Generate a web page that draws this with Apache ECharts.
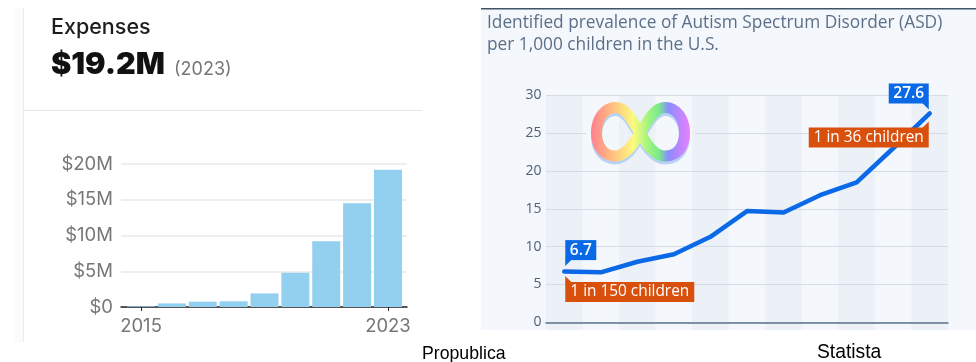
<!DOCTYPE html>
<html><head><meta charset="utf-8">
<style>html,body{margin:0;padding:0;background:#fff}#c{width:976px;height:362px}</style>
<script src="https://cdn.jsdelivr.net/npm/echarts@6/dist/echarts.min.js"></script>
</head><body><div id="c"></div>
<script>
const expenseYears = ['2015','2016','2017','2018','2019','2020','2021','2022','2023'];
const expenseValues = [0.1, 0.5, 0.75, 0.8, 1.9, 4.8, 9.2, 14.5, 19.2];
const expenseTicks = [0, 5, 10, 15, 20];
const prevalenceYears = ['2000','2002','2004','2006','2008','2010','2012','2014','2016','2018','2020'];
const prevalenceValues = [6.7, 6.6, 8.0, 9.0, 11.3, 14.7, 14.5, 16.8, 18.5, 23.0, 27.6];
const blueCallouts = [[0, 6.7, '6.7'], [10, 27.6, '27.6']];
const orangeCallouts = [[0, 6.7, '1 in 150 children'], [10, 27.6, '1 in 36 children']];

const sans = '"Open Sans"';
const chart = echarts.init(document.getElementById('c'));
const BLUE = '#0a69e6', ORANGE = '#d9500c';
const figure8 = 'M640,133 C632,120 626,107.5 616,107.5 C604,107.5 596.5,119 596.5,132.5 C596.5,147 604,156 615,156 C626,156 633,144 640,133 C647,122 654,107.5 665,107.5 C677,107.5 684.5,119 684.5,132.5 C684.5,147 677,156 665,156 C654,156 647,144 640,133 Z';
const rainbow = {type: 'linear', x: 0, y: 0, x2: 1, y2: 0, colorStops: [
  {offset: 0, color: '#ff7f8f'}, {offset: 0.2, color: '#ffbb80'}, {offset: 0.43, color: '#fbfb7f'}, {offset: 0.58, color: '#a0f47f'},
  {offset: 0.69, color: '#78ea8c'}, {offset: 0.78, color: '#8a8cff'}, {offset: 1, color: '#ea80ff'}]};

function callout(params, api, side) {
  const p = api.coord([api.value(0), api.value(1)]);
  const right = params.dataIndex === 1;
  const text = side === 'blue' ? blueCallouts[params.dataIndex][2] : orangeCallouts[params.dataIndex][2];
  let x, y, w, tail;
  if (side === 'blue') {
    w = right ? 40 : 31;
    x = right ? p[0] - 1 - w : p[0] + 1;
    y = p[1] - (right ? 30 : 31.5);
    const edge = right ? x + w : x;
    tail = [[edge, y + 19], [edge, y + 26], [right ? edge - 7 : edge + 7, y + 19]];
  } else {
    w = right ? 120 : 129;
    x = right ? p[0] - 1 - w : p[0] + 1;
    y = p[1] + (right ? 14 : 10.5);
    const edge = right ? x + w : x;
    tail = [[edge, y + 1], [edge, y - 6], [right ? edge - 7 : edge + 7, y + 1]];
  }
  return {type: 'group', children: [
    {type: 'polygon', shape: {points: tail}, style: {fill: side === 'blue' ? BLUE : ORANGE}},
    {type: 'rect', shape: {x, y, width: w, height: 20}, style: {fill: side === 'blue' ? BLUE : ORANGE}},
    {type: 'text', style: {x: x + w / 2, y: y + 10, text, fill: '#fff', align: 'center', verticalAlign: 'middle',
      font: (side === 'blue' ? '600 15.5px ' : '15.4px ') + sans}}
  ]};
}

function logo() {
  const r = {x: 596.5, y: 107.5, width: 88, height: 48.5};
  return {type: 'group', children: [
    {type: 'path', shape: {pathData: figure8, x: r.x, y: r.y + 3, width: r.width, height: r.height, layout: 'cover'}, style: {fill: 'none', stroke: '#b7d2f4', lineWidth: 11}},
    {type: 'path', shape: {pathData: figure8, x: r.x, y: r.y, width: r.width, height: r.height, layout: 'cover'}, style: {fill: 'none', stroke: rainbow, lineWidth: 11}}
  ]};
}

chart.setOption({
  animation: false,
  backgroundColor: '#fff',
  grid: [
    {left: 121, width: 286, top: 164, height: 143},
    {left: 125.6, width: 277.8, top: 164, height: 143},
    {left: 546, width: 402, top: 95, height: 235},
    {left: 546, width: 402, top: 95.3, height: 227}
  ],
  xAxis: [
    {gridIndex: 0, type: 'category', data: expenseYears, axisLine: {show: true, lineStyle: {color: '#222', width: 1.5}}, axisTick: {show: false}, axisLabel: {show: false}},
    {gridIndex: 1, type: 'category', data: expenseYears, axisLine: {show: false},
      axisTick: {show: true, alignWithLabel: true, length: 4, interval: i => i === 0 || i === 8, lineStyle: {color: '#222'}},
      axisLabel: {interval: i => i === 0 || i === 8, color: '#777', fontFamily: 'Inter', fontSize: 18.5, margin: 10}},
    {gridIndex: 2, type: 'category', z: -5, data: prevalenceYears, axisLine: {show: false}, axisTick: {show: false}, axisLabel: {show: false},
      splitArea: {show: true, interval: 0, areaStyle: {color: ['#ecf1f8', '#f4f7fb']}}},
    {gridIndex: 3, type: 'category', z: 1, data: prevalenceYears, axisLine: {show: true, lineStyle: {color: '#5f7389', width: 1.5}}, axisTick: {show: false}, axisLabel: {show: false}}
  ],
  yAxis: [
    {gridIndex: 0, type: 'value', min: 0, max: 20, interval: 5, axisLine: {show: false}, axisTick: {show: false},
      splitLine: {lineStyle: {color: '#e9e9e9', width: 1.5}},
      axisLabel: {color: '#777', fontFamily: 'Inter', fontSize: 18.5, margin: 8, customValues: expenseTicks, formatter: v => '$' + v + (v ? 'M' : '')}},
    {gridIndex: 1, type: 'value', min: 0, max: 20, interval: 5, show: false},
    {gridIndex: 2, type: 'value', min: 0, max: 1, show: false, splitLine: {show: false}},
    {gridIndex: 3, type: 'value', z: 1, min: 0, max: 30, interval: 5, axisLine: {show: false}, axisTick: {show: false},
      splitLine: {show: true, lineStyle: {color: '#d5dce7', width: 1}},
      axisLabel: {color: '#4f6276', fontFamily: sans, fontSize: 14, margin: 4.5}}
  ],
  graphic: [
    {type: 'rect', z: -10, silent: true, shape: {x: 15, y: 8, width: 8, height: 334}, style: {fill: '#fbfbfb'}},
    {type: 'rect', z: -10, silent: true, shape: {x: 23, y: 8, width: 1, height: 334}, style: {fill: '#ececec'}},
    {type: 'rect', z: -10, silent: true, shape: {x: 24, y: 110, width: 398, height: 1}, style: {fill: '#e6e6e6'}},
    {type: 'rect', z: -10, silent: true, shape: {x: 481, y: 8, width: 495, height: 322}, style: {fill: '#f4f7fb'}},
    {type: 'rect', z: -9, silent: true, shape: {x: 481, y: 8, width: 495, height: 1.5}, style: {fill: '#3f5468'}},
    {type: 'rect', z: 2, silent: true, shape: {x: 586, y: 131.5, width: 33, height: 3}, style: {fill: '#f4f7fb'}},
    {type: 'rect', z: 2, silent: true, shape: {x: 619, y: 131.5, width: 36.5, height: 3}, style: {fill: '#ecf1f8'}},
    {type: 'rect', z: 2, silent: true, shape: {x: 655.5, y: 131.5, width: 36.5, height: 3}, style: {fill: '#f4f7fb'}},
    {type: 'rect', z: 2, silent: true, shape: {x: 692, y: 131.5, width: 3, height: 3}, style: {fill: '#ecf1f8'}},
    {type: 'text', z: 5, style: {x: 51, y: 17, text: 'Expenses', fill: '#1d1d1d', font: '500 21.5px Inter'}},
    {type: 'text', z: 5, style: {x: 51, y: 49, text: '$19.2M', fill: '#111', font: '900 30.5px Inter'}},
    {type: 'text', z: 5, style: {x: 174, y: 61, text: '(2023)', fill: '#777', font: '18px Inter'}},
    {type: 'text', z: 5, style: {x: 487, y: 15, text: 'Identified prevalence of Autism Spectrum Disorder (ASD)', fill: '#5b7088', font: '17.3px ' + sans}},
    {type: 'text', z: 5, style: {x: 487, y: 37, text: 'per 1,000 children in the U.S.', fill: '#5b7088', font: '17.3px ' + sans}},
    {type: 'text', z: 5, style: {x: 422, y: 345, text: 'Propublica', fill: '#000', font: '17.7px "Liberation Sans"'}},
    {type: 'text', z: 5, style: {x: 817, y: 343, text: 'Statista', fill: '#000', font: '19.3px "Liberation Sans"'}}
  ],
  series: [
    {type: 'bar', xAxisIndex: 1, yAxisIndex: 1, data: expenseValues, barWidth: 28, itemStyle: {color: '#93cfef'}, z: 3},
    {type: 'custom', coordinateSystem: 'none', z: 4, data: [[0]], renderItem: logo, silent: true},
    {type: 'line', xAxisIndex: 3, yAxisIndex: 3, data: prevalenceValues, showSymbol: false, symbol: 'none', z: 5,
      lineStyle: {color: BLUE, width: 4.5, cap: 'round', join: 'round'}},
    {type: 'custom', xAxisIndex: 3, yAxisIndex: 3, z: 6, data: blueCallouts.map(d => d.slice(0, 2)), renderItem: (p, a) => callout(p, a, 'blue'), encode: {x: 0, y: 1}},
    {type: 'custom', xAxisIndex: 3, yAxisIndex: 3, z: 7, data: orangeCallouts.map(d => d.slice(0, 2)), renderItem: (p, a) => callout(p, a, 'orange'), encode: {x: 0, y: 1}}
  ]
});
</script></body></html>
